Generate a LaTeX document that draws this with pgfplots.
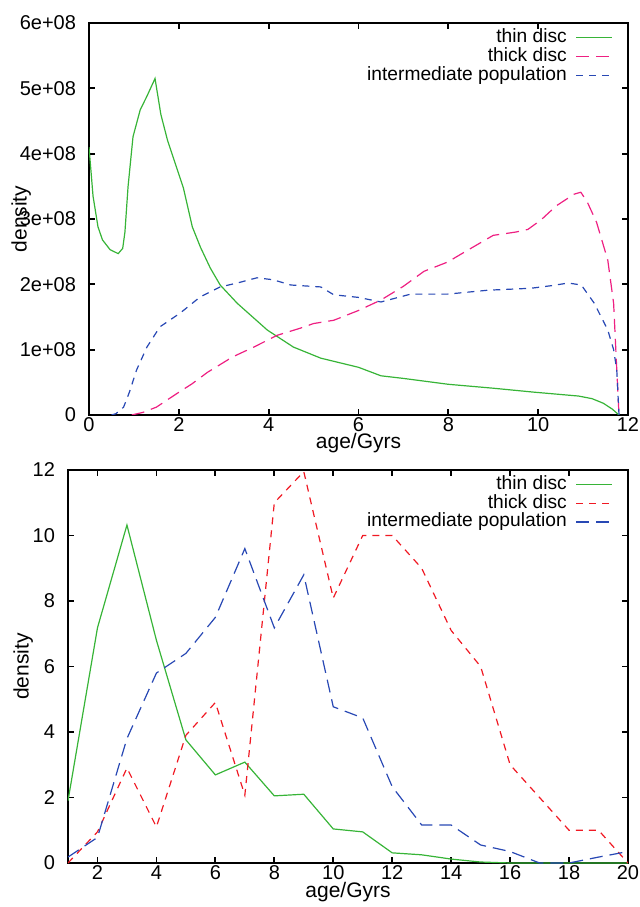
\documentclass[border=0pt]{standalone}
\usepackage{fontspec}
\setmainfont{Liberation Sans}
\usepackage{pgfplots}
\pgfplotsset{compat=1.18}
\definecolor{cthin}{RGB}{55,180,55}
\definecolor{cpink}{RGB}{238,32,130}
\definecolor{cblue}{RGB}{40,72,180}
\definecolor{cred}{RGB}{240,25,35}
\pgfplotsset{
  common/.style={
    scale only axis,
    axis line style={line width=1.3pt},
    tick style={line width=0.9pt, black},
    tick align=inside,
    major tick length=3pt,
    /pgf/number format/assume math mode=true,
    font=\fontsize{10}{12}\selectfont,
    ticklabel style={font=\fontsize{10}{12}\selectfont},
    xticklabel style={anchor=center, yshift=-5pt},
    yticklabel style={anchor=east, xshift=-3pt},
    label style={font=\fontsize{10.5}{12}\selectfont},
    legend plot pos=right,
    legend cell align=right,
    legend style={draw=none, fill=none, inner sep=0pt, outer sep=0pt,
      at={(axis description cs:1,1)}, anchor=north east, xshift=-7.5pt, yshift=-2.3pt,
      font=\fontsize{9.6}{11}\selectfont,
      nodes={text height=7.2pt, text depth=2.3pt, inner sep=0pt},
      row sep=0pt, column sep=4.5pt},
    legend image code/.code={\draw[#1] plot coordinates {(0pt,0pt) (18pt,0pt)};},
  },
}
\begin{document}
\begin{tikzpicture}
\path[use as bounding box] (0,0) rectangle (319.5pt,453.5pt);
% ---------------- top ----------------
\begin{axis}[common,
  at={(44.5pt,246pt)}, anchor=south west,
  width=269.5pt, height=196pt,
  xmin=0, xmax=12, ymin=0, ymax=6e8,
  xtick={0,2,4,6,8,10,12},
  ytick={0,1e8,2e8,3e8,4e8,5e8,6e8},
  yticklabels={0,1e+08,2e+08,3e+08,4e+08,5e+08,6e+08},
  scaled y ticks=false,
  xlabel={age/Gyrs}, ylabel={density},
  xlabel style={at={(axis description cs:0.5,-0.072)}, anchor=center},
  ylabel style={at={(axis description cs:-0.126,0.5)}, anchor=center},
]
\addplot[cthin, line width=0.6pt] coordinates {
(0,4.1e8)(0.09,3.35e8)(0.2,2.88e8)(0.3,2.68e8)(0.47,2.53e8)(0.65,2.47e8)(0.75,2.55e8)(0.8,2.8e8)(0.87,3.5e8)(0.98,4.26e8)(1.14,4.67e8)(1.29,4.88e8)(1.47,5.15e8)(1.6,4.6e8)(1.75,4.2e8)(2.1,3.48e8)(2.3,2.88e8)(2.48,2.57e8)(2.7,2.25e8)(2.92,1.99e8)(3.3,1.71e8)(3.97,1.3e8)(4.55,1.04e8)(5.16,0.87e8)(6.0,0.73e8)(6.5,0.6e8)(7.0,0.56e8)(8.0,0.47e8)(9.0,0.41e8)(9.9,0.35e8)(10.9,0.29e8)(11.2,0.25e8)(11.45,0.18e8)(11.65,0.09e8)(11.8,0)
};
\addlegendentry{thin disc}
\addplot[cpink, line width=0.6pt, dash pattern=on 6.5pt off 3.5pt] coordinates {
(0.95,0)(1.2,0.04e8)(1.5,0.12e8)(1.96,0.33e8)(2.3,0.48e8)(2.63,0.65e8)(3.2,0.89e8)(3.67,1.04e8)(4.19,1.22e8)(4.71,1.33e8)(5.0,1.4e8)(5.45,1.45e8)(6.0,1.6e8)(6.5,1.76e8)(7.0,1.97e8)(7.46,2.2e8)(7.98,2.34e8)(8.5,2.55e8)(9.0,2.75e8)(9.5,2.8e8)(9.77,2.84e8)(10.07,2.99e8)(10.4,3.2e8)(10.8,3.38e8)(10.95,3.41e8)(11.1,3.25e8)(11.3,2.95e8)(11.55,2.37e8)(11.68,1.71e8)(11.75,0.7e8)(11.8,0)
};
\addlegendentry{thick disc}
\addplot[cblue, line width=0.6pt, dash pattern=on 3.5pt off 3pt] coordinates {
(0.5,0)(0.6,0.02e8)(0.77,0.12e8)(0.9,0.35e8)(1.06,0.69e8)(1.29,1.04e8)(1.58,1.35e8)(2.03,1.56e8)(2.48,1.81e8)(2.92,1.96e8)(3.3,2.02e8)(3.74,2.1e8)(4.1,2.07e8)(4.49,1.99e8)(5.16,1.96e8)(5.45,1.84e8)(6.0,1.8e8)(6.5,1.73e8)(7.16,1.85e8)(7.98,1.85e8)(8.88,1.91e8)(9.84,1.94e8)(10.3,1.98e8)(10.67,2.02e8)(10.96,1.99e8)(11.25,1.71e8)(11.55,1.3e8)(11.68,1.0e8)(11.75,0.69e8)(11.8,0)
};
\addlegendentry{intermediate population}
\end{axis}
% ---------------- bottom ----------------
\begin{axis}[common,
  at={(34pt,22pt)}, anchor=south west,
  width=280pt, height=196.5pt,
  xmin=1, xmax=20, ymin=0, ymax=12,
  xtick={2,4,6,8,10,12,14,16,18,20},
  ytick={0,2,4,6,8,10,12},
  xlabel={age/Gyrs}, ylabel={density},
  xlabel style={at={(axis description cs:0.5,-0.074)}, anchor=center},
  ylabel style={at={(axis description cs:-0.08,0.5)}, anchor=center},
]
\addplot[cthin, line width=0.6pt] coordinates {
(1,1.9)(2,7.18)(3,10.32)(4,6.8)(5,3.76)(6,2.69)(7,3.08)(8,2.05)(9,2.1)(10,1.04)(11,0.95)(12,0.31)(13,0.25)(14,0.12)(15,0.03)(16,0)(17,0)(18,0)(19,0)(20,0)
};
\addlegendentry{thin disc}
\addplot[cred, line width=0.6pt, dash pattern=on 3.5pt off 3pt] coordinates {
(1,0)(2,0.95)(3,2.9)(4,1.1)(5,3.9)(6,4.9)(7,2.07)(8,11.0)(9,11.95)(10,8.09)(11,10.0)(12,10.0)(13,9.0)(14,7.1)(15,6.0)(16,3.0)(17,2.0)(18,1.0)(19,1.0)(20,0)
};
\addlegendentry{thick disc}
\addplot[cblue, line width=0.6pt, dash pattern=on 6.5pt off 3.5pt] coordinates {
(1,0.18)(2,0.78)(3,3.8)(4,5.8)(5,6.4)(6,7.5)(7,9.6)(8,7.18)(9,8.8)(10,4.77)(11,4.43)(12,2.33)(13,1.16)(14,1.16)(15,0.55)(16,0.35)(17,0)(18,0)(19,0.18)(20,0.35)
};
\addlegendentry{intermediate population}
\end{axis}
\end{tikzpicture}
\end{document}
